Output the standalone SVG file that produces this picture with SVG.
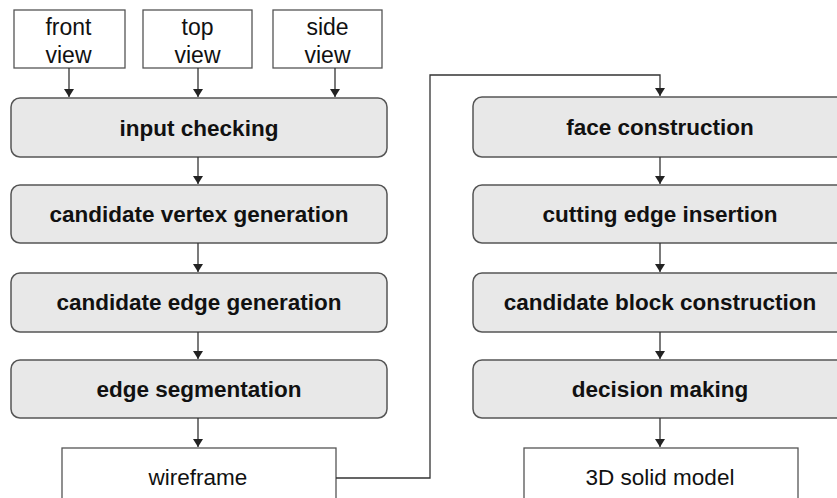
<svg xmlns="http://www.w3.org/2000/svg" width="837" height="498" viewBox="0 0 837 498">
<style>
.box{fill:#fff;stroke:#555;stroke-width:1.3}
.step{fill:#e8e8e8;stroke:#555;stroke-width:1.5}
.t{font-family:"Liberation Sans",Arial,sans-serif;font-size:22.5px;fill:#111;text-anchor:middle}
.v{font-size:23px}
.b{font-weight:bold}
.c{fill:none;stroke:#333;stroke-width:1.3}
</style>
<defs>
<marker id="ah" viewBox="0 0 8 10" refX="8" refY="5" markerWidth="8" markerHeight="10" markerUnits="userSpaceOnUse" orient="auto">
<path d="M0,0 L8,5 L0,10 Z" fill="#222"/>
</marker>
</defs>
<rect width="837" height="498" fill="#fff"/>
<g id="front-view"><rect class="box" x="14" y="10" width="111" height="58"/><text class="t v" x="68.5" y="35">front</text><text class="t v" x="68.5" y="63">view</text></g>
<g id="top-view"><rect class="box" x="143" y="10" width="109" height="58"/><text class="t v" x="197.5" y="35">top</text><text class="t v" x="197.5" y="63">view</text></g>
<g id="side-view"><rect class="box" x="273" y="10" width="109" height="58"/><text class="t v" x="327.5" y="35">side</text><text class="t v" x="327.5" y="63">view</text></g>
<g id="input-checking"><rect class="step" x="11" y="98" width="376" height="59" rx="9"/><text class="t b" x="199" y="135.5">input checking</text></g>
<g id="candidate-vertex"><rect class="step" x="11" y="185" width="376" height="58" rx="9"/><text class="t b" x="199" y="222">candidate vertex generation</text></g>
<g id="candidate-edge"><rect class="step" x="11" y="273" width="376" height="59" rx="9"/><text class="t b" x="199" y="310">candidate edge generation</text></g>
<g id="edge-segmentation"><rect class="step" x="11" y="360" width="376" height="58" rx="9"/><text class="t b" x="199" y="397">edge segmentation</text></g>
<g id="wireframe"><rect class="box" x="62" y="448" width="274" height="70"/><text class="t" x="198" y="485">wireframe</text></g>
<g id="face-construction"><rect class="step" x="473" y="97" width="376" height="60" rx="9"/><text class="t b" x="660" y="135">face construction</text></g>
<g id="cutting-edge"><rect class="step" x="473" y="185" width="376" height="58" rx="9"/><text class="t b" x="660" y="222">cutting edge insertion</text></g>
<g id="candidate-block"><rect class="step" x="473" y="273" width="376" height="59" rx="9"/><text class="t b" x="660" y="310">candidate block construction</text></g>
<g id="decision-making"><rect class="step" x="473" y="360" width="376" height="58" rx="9"/><text class="t b" x="660" y="397">decision making</text></g>
<g id="solid-model"><rect class="box" x="524" y="448" width="274" height="70"/><text class="t" x="660" y="485">3D solid model</text></g>
<g id="connectors">
<path class="c" d="M69,68 V97" marker-end="url(#ah)"/>
<path class="c" d="M198,68 V97" marker-end="url(#ah)"/>
<path class="c" d="M335,68 V97" marker-end="url(#ah)"/>
<path class="c" d="M198,157 V184" marker-end="url(#ah)"/>
<path class="c" d="M198,243 V272" marker-end="url(#ah)"/>
<path class="c" d="M198,332 V359" marker-end="url(#ah)"/>
<path class="c" d="M198,418 V447" marker-end="url(#ah)"/>
<path class="c" d="M336,478 H430 V75 H660 V96" marker-end="url(#ah)"/>
<path class="c" d="M660,157 V184" marker-end="url(#ah)"/>
<path class="c" d="M660,243 V272" marker-end="url(#ah)"/>
<path class="c" d="M660,332 V359" marker-end="url(#ah)"/>
<path class="c" d="M660,418 V447" marker-end="url(#ah)"/>
</g>
</svg>
